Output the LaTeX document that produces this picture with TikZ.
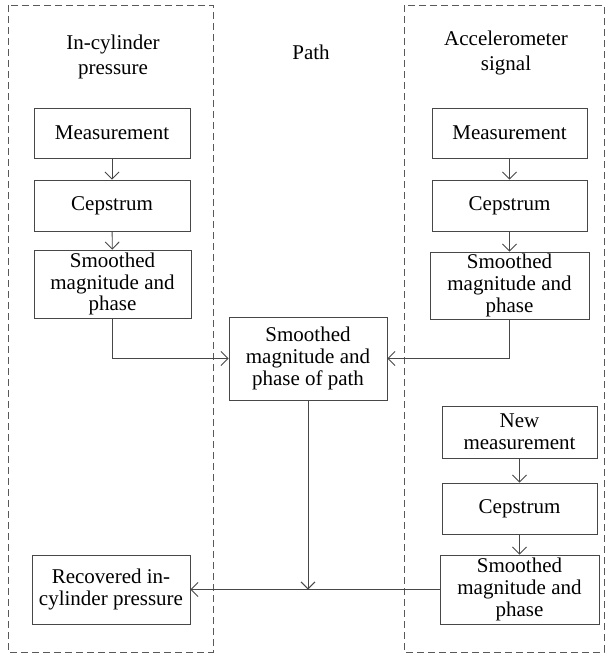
\documentclass[tikz,border=0pt]{standalone}
\usepackage{fontspec}
\setmainfont{Liberation Serif}
\usetikzlibrary{arrows.meta}
\begin{document}
\begin{tikzpicture}[x=1pt,y=-1pt,
  lc/.style={draw=black!72, line width=0.9pt},
  blk/.style={lc, fill=white, align=center, font=\fontsize{21}{21.7}\selectfont, inner sep=0pt},
  grp/.style={draw=black!65, line width=0.9pt, dash pattern=on 7pt off 4pt},
  lbl/.style={align=center, font=\fontsize{21}{25}\selectfont},
  arr/.style={lc, -{Straight Barb[length=7pt,width=14pt]}}
]
\useasboundingbox (0,0) rectangle (608,656);
% group frames
\draw[grp] (8,5) rectangle (213,652);
\draw[grp] (404,5) rectangle (604,652);
% titles
\node[lbl] (tl) at (113,57) {In-cylinder\\pressure};
\node[lbl] (tp) at (311,52) {Path};
\node[lbl] (tr) at (506,53) {Accelerometer\\signal};
% left column
\node[blk, minimum width=156pt, minimum height=50pt] (lm) at (112,133) {Measurement};
\node[blk, minimum width=156pt, minimum height=51pt] (lc) at (112,205.5) {Cepstrum};
\node[blk, minimum width=157pt, minimum height=68pt] (ls) at (112.5,284) {Smoothed\\magnitude and\\phase};
% right column
\node[blk, minimum width=155pt, minimum height=50pt] (rm) at (509.5,133) {Measurement};
\node[blk, minimum width=155pt, minimum height=51pt] (rc) at (509.5,205.5) {Cepstrum};
\node[blk, minimum width=159pt, minimum height=67pt] (rs) at (509.5,285.5) {Smoothed\\magnitude and\\phase};
% middle
\node[blk, minimum width=158pt, minimum height=83pt] (mp) at (308,358.5) {Smoothed\\magnitude and\\phase of path};
% new measurement column
\node[blk, minimum width=155pt, minimum height=52pt] (nm) at (519.5,432) {New\\measurement};
\node[blk, minimum width=155pt, minimum height=51pt] (nc) at (519.5,508.5) {Cepstrum};
\node[blk, minimum width=159pt, minimum height=69pt] (ns) at (519.5,589.5) {Smoothed\\magnitude and\\phase};
% recovered
\node[blk, minimum width=158pt, minimum height=69pt] (rp) at (111,589.5) {Recovered in-\\cylinder pressure};
% connectors
\draw[arr] (lm) -- (lc);
\draw[arr] (lc) -- (ls);
\draw[arr] (rm) -- (rc);
\draw[arr] (rc) -- (rs);
\draw[arr] (nm) -- (nc);
\draw[arr] (nc) -- (ns);
\draw[arr] (ls.south) |- (mp.west);
\draw[arr] (rs.south) |- (mp.east);
\coordinate (j) at (mp.south |- ns.west);
\draw[arr] (mp.south) -- (j);
\draw[arr] (ns.west) -- (rp.east);
\end{tikzpicture}
\end{document}
